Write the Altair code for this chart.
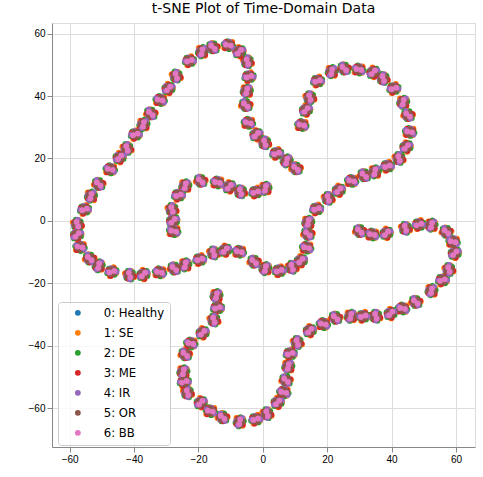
import math
import altair as alt
import pandas as pd

# ---- data ----
classes = ["0: Healthy", "1: SE", "2: DE", "3: ME", "4: IR", "5: OR", "6: BB"]
colors = ["#1f77b4", "#ff7f0e", "#2ca02c", "#d62728", "#9467bd", "#8c564b", "#e377c2"]

# cluster centres (t-SNE coordinates)
center_x = [
    12.1, 13.4, 14.6, 17.0, 21.4, 25.3, 29.8, 34.3, 37.4, 40.7, 43.6, 45.1, 45.6, 44.6,
    42.3, 38.7, 34.8, 31.5, 27.6, 23.6, 20.3, 16.7, 14.1, 14.0, 13.6, 11.8, 9.1, 5.1,
    0.8, -2.7, -7.3, -11.7, -15.3, -19.6, -24.1, -27.5, -32.1, -37.1, -41.4, -46.9,
    -51.0, -53.8, -56.8, -57.7, -57.6, -55.4, -53.4, -51.0, -47.4, -44.5, -42.2, -39.6,
    -37.1, -34.8, -31.9, -29.3, -26.9, -22.8, -18.9, -15.5, -10.7, -7.3, -4.8, -4.3,
    -5.0, -5.3, -4.5, -2.0, 0.6, 4.3, 7.4, 10.3,
    -27.7, -27.9, -28.2, -26.2, -24.1, -19.3, -14.1, -10.4, -6.9, -2.2, 0.8,
    30.1, 34.0, 38.4, 44.3, 48.5, 52.4, 57.0, 59.1, 59.6, 57.8, 55.8, 52.4, 47.5, 43.4,
    39.7, 35.1, 31.2, 27.3, 22.6, 18.8, 14.6, 10.7, 8.5, 7.9, 7.2, 6.5, 4.6, 1.3, -2.2,
    -7.2, -12.5, -16.3, -19.3, -23.4, -24.4, -24.7, -24.1, -22.4, -18.7, -15.2, -14.1,
    -14.4,
]
center_y = [
    30.7, 35.5, 39.5, 44.8, 47.8, 48.8, 48.5, 47.6, 45.6, 42.4, 38.0, 33.9, 28.5, 23.7,
    20.0, 17.5, 15.7, 14.6, 12.8, 9.8, 7.2, 3.8, -0.5, -4.2, -8.6, -12.8, -14.9, -16.0,
    -15.3, -13.1, -9.9, -9.4, -10.3, -12.4, -14.1, -15.3, -16.5, -17.2, -17.4, -16.3,
    -14.4, -12.1, -8.4, -4.5, -1.1, 3.65, 7.9, 11.8, 16.5, 20.3, 23.2, 27.7,
    30.9, 34.4, 38.7, 42.4, 46.4, 51.3, 54.2, 55.6, 56.3, 54.2, 51.0, 46.2,
    41.6, 37.1, 31.4, 27.6, 25.0, 21.6, 19.2, 16.8,
    -3.3, 0.0, 3.65, 8.2, 11.2, 12.8, 12.3, 10.9, 9.3, 9.2, 10.4,
    -3.3, -4.4, -4.0, -2.4, -1.2, -1.4, -3.5, -6.7, -10.4, -15.6, -19.0, -22.4, -26.0, -28.1,
    -29.7, -30.6, -30.6, -30.6, -31.1, -33.1, -35.2, -39.0, -42.6, -46.7, -51.1, -55.0, -58.2, -61.8, -63.6,
    -64.4, -63.0, -61.0, -58.3, -55.1, -51.6, -48.4, -42.8, -39.3, -35.9, -31.8, -27.9,
    -24.0,
]

# spread of each class's samples inside one cluster (data units)
class_dx = [
    [-0.6, 0.7, 0.1],
    [-1.3, 1.2, 0.9],
    [-1.5, 1.5, 0.2, -0.3],
    [-1.0, 1.1, -0.8],
    [1.2, -1.2, 0.3],
    [-1.0, 1.0, 0.0, 0.1],
    [-0.75, 0.75],
]
class_dy = [
    [0.5, -0.4, 0.9],
    [-0.9, 1.0, -1.1],
    [0.3, -0.3, -1.3, 1.3],
    [-1.0, 0.6, 1.0],
    [-0.8, 0.6, 1.1],
    [-0.3, 0.3, -0.9, 0.9],
    [0.15, -0.15],
]
tilts = [0, 60, 120, 30, 90, 150]

rows = []
for ci, name in enumerate(classes):
    for k, (cx, cy) in enumerate(zip(center_x, center_y)):
        a = math.radians(tilts[k % len(tilts)])
        ca, sa = math.cos(a), math.sin(a)
        for dx, dy in zip(class_dx[ci], class_dy[ci]):
            rows.append({
                "x": cx + dx * ca - dy * sa,
                "y": cy + dx * sa + dy * ca,
                "label": name,
                "ord": ci,
            })
df = pd.DataFrame(rows)

ticks = [-60, -40, -20, 0, 20, 40, 60]

chart = alt.Chart(df).mark_circle(size=34, opacity=1).encode(
    x=alt.X("x:Q", scale=alt.Scale(domain=[-65.5, 65.9], nice=False, zero=False),
            axis=alt.Axis(values=ticks, format="d", title=None)),
    y=alt.Y("y:Q", scale=alt.Scale(domain=[-72.5, 63.4], nice=False, zero=False),
            axis=alt.Axis(values=ticks, format="d", title=None)),
    color=alt.Color("label:N", scale=alt.Scale(domain=classes, range=colors),
                    legend=alt.Legend(
                        title=None, orient="none", legendX=6, legendY=279,
                        fillColor="rgba(255,255,255,0.8)", strokeColor="#cccccc",
                        cornerRadius=3, padding=5, symbolOffset=9, labelOffset=20,
                        rowPadding=7, symbolSize=34, symbolType="circle",
                        symbolStrokeWidth=0, labelFontSize=11.7,
                        labelFont="DejaVu Sans", labelColor="black")),
    order=alt.Order("ord:Q"),
).properties(
    width=423, height=424,
    title=alt.TitleParams("t-SNE Plot of Time-Domain Data", fontSize=14,
                          font="DejaVu Sans", fontWeight="normal", color="black",
                          offset=7),
    autosize=alt.AutoSizeParams(type="none"),
    padding={"left": 52, "top": 23, "right": 8, "bottom": 30},
).configure_view(
    stroke="black", strokeWidth=1
).configure_axis(
    grid=True, gridColor="#b0b0b0", gridWidth=1, domain=False,
    tickColor="black", tickSize=5, tickWidth=1,
    labelFontSize=11.7, labelFont="DejaVu Sans", labelColor="black", labelPadding=3,
).configure(background="white")

chart.save("out.html", embed_options={"renderer": "svg", "actions": False})
